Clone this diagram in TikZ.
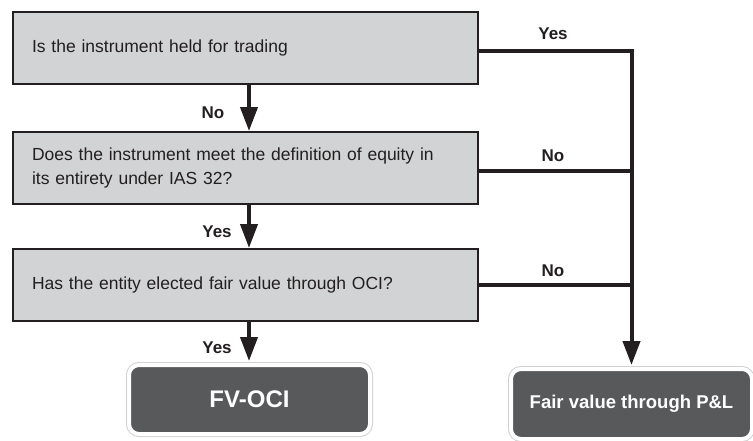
\documentclass[tikz,border=0pt]{standalone}
\usepackage{fontspec}
\setmainfont{Liberation Sans}
\usetikzlibrary{arrows.meta}
\definecolor{boxgray}{HTML}{D1D3D4}
\definecolor{ink}{HTML}{231F20}
\definecolor{darkbox}{HTML}{58595B}
\tikzset{
  qbox/.style={draw=ink, line width=2pt, fill=boxgray, rectangle, minimum width=465pt, minimum height=72pt,
    inner xsep=19pt, text width=427pt, align=left, font=\fontsize{17.5}{24}\selectfont, text=ink},
  resbox/.style={fill=darkbox, draw=white, line width=4pt, rounded corners=10pt,
    preaction={draw=black!18, line width=6pt}, text=white, font=\bfseries},
  flow/.style={draw=ink, line width=4pt},
  flowarrow/.style={flow, -{Triangle[length=24pt,width=17pt]}},
  lbl/.style={font=\bfseries\fontsize{17}{20}\selectfont, text=ink}
}
\begin{document}
\begin{tikzpicture}[x=1pt,y=-1pt]
\useasboundingbox (0,0) rectangle (753,440);
\node[qbox] (b1) at (245.5,48) {Is the instrument held for trading};
\node[qbox] (b2) at (245.5,168) {Does the instrument meet the definition of equity in\\its entirety under IAS 32?};
\node[qbox] (b3) at (245.5,285) {Has the entity elected fair value through OCI?};
\node[resbox, minimum width=241pt, minimum height=69pt, font=\bfseries\fontsize{24}{28}\selectfont] (fvoci) at (249.5,399.5) {FV-OCI};
\node[resbox, minimum width=241pt, minimum height=70pt, font=\bfseries\fontsize{18.5}{22}\selectfont] (fvpl) at (631.5,404) {Fair value through P\&L};
\coordinate (ax) at (249,0);
\draw[flowarrow] (b1.south -| ax) -- (b2.north -| ax);
\draw[flowarrow] (b2.south -| ax) -- (b3.north -| ax);
\draw[flowarrow] (b3.south -| ax) -- ([yshift=2pt]fvoci.north -| ax);
\draw[flowarrow] ([yshift=-3pt]b1.east) -| ([yshift=2pt]fvpl.north);
\draw[flow] ([yshift=-3pt]b2.east) -- ([yshift=-3pt]b2.east -| fvpl.north);
\draw[flow] (b3.east) -- (b3.east -| fvpl.north);
\node[lbl] (l1) at (553,34) {Yes};
\node[lbl] (l2) at (553,156) {No};
\node[lbl] (l3) at (553,271) {No};
\node[lbl] (l4) at (213,113) {No};
\node[lbl] (l5) at (217,232) {Yes};
\node[lbl] (l6) at (217,348) {Yes};
\end{tikzpicture}
\end{document}
